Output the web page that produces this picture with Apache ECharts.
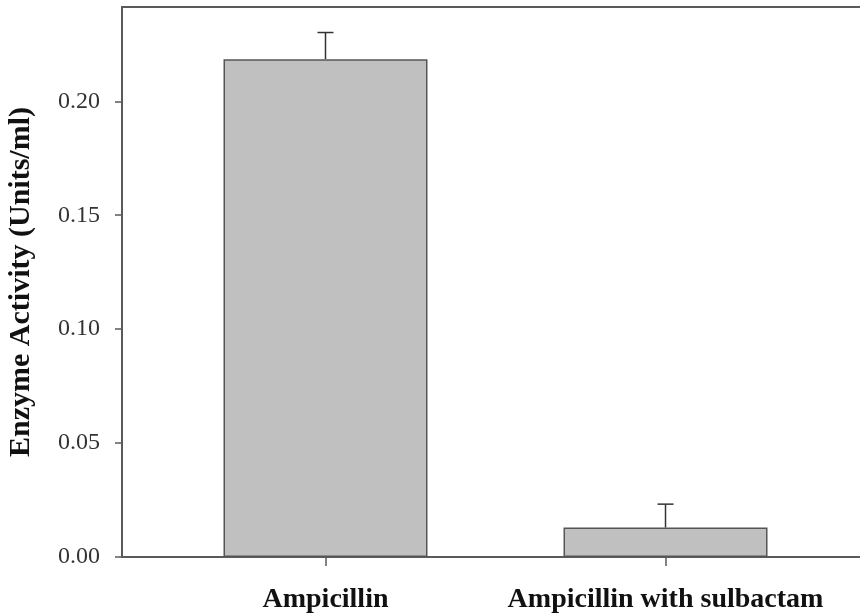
<!DOCTYPE html>
<html>
<head>
<meta charset="utf-8">
<script src="https://cdn.jsdelivr.net/npm/echarts@6/dist/echarts.min.js"></script>
<style>
html,body{margin:0;padding:0;background:#fff;}
#chart{width:860px;height:616px;}
</style>
</head>
<body>
<div id="chart"></div>
<script>
const categories = ['Ampicillin', 'Ampicillin with sulbactam'];
const positions = [1, 2];
const means = [0.2185, 0.0129];
const errors = [0.0117, 0.0103];
const yTicks = [0, 0.05, 0.10, 0.15, 0.20];

const chart = echarts.init(document.getElementById('chart'));
const barData = positions.map((p, i) => [p, means[i]]);
const errData = positions.map((p, i) => [p, means[i], errors[i]]);
const font = '"Liberation Serif", "Times New Roman", serif';
const axisColor = '#5a5a5a';

chart.setOption({
  animation: false,
  backgroundColor: '#fff',
  grid: { left: 122, top: 7, right: 0, bottom: 59, containLabel: false, outerBoundsMode: 'none' },
  xAxis: [{
    type: 'value',
    min: 0.4015,
    max: 2.572,
    splitLine: { show: false },
    axisLine: { show: true, onZero: false, lineStyle: { color: axisColor, width: 2 } },
    axisTick: { show: true, inside: false, length: 9, customValues: positions, lineStyle: { color: axisColor, width: 1.5 } },
    axisLabel: {
      customValues: positions,
      formatter: v => categories[positions.indexOf(Math.round(v))] || '',
      fontFamily: font, fontWeight: 'bold', fontSize: 28, color: '#111', margin: 29
    }
  }, {
    type: 'value',
    position: 'top',
    min: 0.4015,
    max: 2.572,
    splitLine: { show: false },
    axisLine: { show: true, onZero: false, lineStyle: { color: axisColor, width: 2 } },
    axisTick: { show: false },
    axisLabel: { show: false }
  }],
  yAxis: {
    type: 'value',
    min: 0,
    max: 0.2414,
    name: 'Enzyme Activity (Units/ml)',
    nameLocation: 'middle',
    nameGap: 86,
    nameMoveOverlap: false,
    nameTextStyle: { fontFamily: font, fontWeight: 'bold', fontSize: 30, color: '#111' },
    splitLine: { show: false },
    axisLine: { show: true, onZero: false, lineStyle: { color: axisColor, width: 2 } },
    axisTick: { show: true, inside: false, length: 7, customValues: yTicks, lineStyle: { color: axisColor, width: 1.5 } },
    axisLabel: {
      customValues: yTicks,
      formatter: v => v.toFixed(2),
      fontFamily: font, fontSize: 24, color: '#333', margin: 22
    }
  },
  series: [{
    type: 'bar',
    data: barData,
    barWidth: 204,
    itemStyle: { color: '#c0c0c0', borderColor: '#555', borderWidth: 1.5 },
    z: 3
  }, {
    type: 'custom',
    data: errData,
    z: 2,
    renderItem: function (params, api) {
      const x = api.value(0), m = api.value(1), e = api.value(2);
      const base = api.coord([x, m]);
      const top = api.coord([x, m + e]);
      const cap = 8;
      return {
        type: 'group',
        children: [
          { type: 'line', shape: { x1: base[0], y1: base[1], x2: top[0], y2: top[1] }, style: { stroke: '#333', lineWidth: 1.5 } },
          { type: 'line', shape: { x1: top[0] - cap, y1: top[1], x2: top[0] + cap, y2: top[1] }, style: { stroke: '#333', lineWidth: 1.5 } }
        ]
      };
    }
  }]
});
</script>
</body>
</html>
